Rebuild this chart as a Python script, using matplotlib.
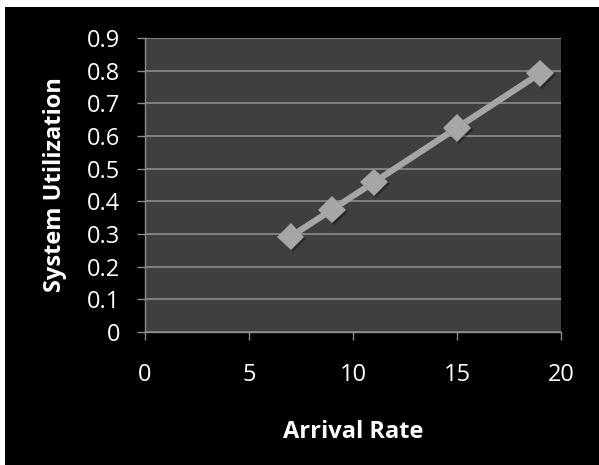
import matplotlib
matplotlib.use("Agg")
import matplotlib.pyplot as plt
import matplotlib.patheffects as pe

# arrival rate vs. system utilization
arrival_rate = [7, 9, 11, 15, 19]
utilization = [0.292, 0.375, 0.458, 0.625, 0.792]

x_ticks = [0, 5, 10, 15, 20]
y_ticks = [0, 0.1, 0.2, 0.3, 0.4, 0.5, 0.6, 0.7, 0.8, 0.9]

plt.rcParams['font.family'] = ['Open Sans', 'DejaVu Sans']

fig = plt.figure(figsize=(5.99, 4.65), dpi=100, facecolor="white")
# black panel with a thin white margin on the top and left
fig.patches.append(plt.Rectangle((5 / 599, 0), 1, 1 - 7 / 465, transform=fig.transFigure,
                                 facecolor="black", edgecolor="none", zorder=-10))

ax = fig.add_axes([145 / 599, 1 - 332 / 465, (561 - 145) / 599, (332 - 38) / 465])
ax.set_facecolor("#3f3f3f")

ax.plot(arrival_rate, utilization, color="#a6a6a6", linewidth=4.5, marker="D",
        markersize=14, markeredgewidth=0, solid_capstyle="butt", zorder=3,
        path_effects=[pe.SimplePatchShadow(offset=(1.5, -1.5), shadow_rgbFace="black", alpha=0.35),
                      pe.Normal()])

ax.set_xlim(0, 20)
ax.set_ylim(0, 0.9)
ax.set_xticks(x_ticks)
ax.set_yticks(y_ticks)
ax.set_yticklabels([f"{v:g}" for v in y_ticks])

ax.grid(axis="y", color="#8c8c8c", linewidth=1.2, zorder=1)
ax.set_axisbelow(True)

for side in ["top", "right"]:
    ax.spines[side].set_visible(False)
for side in ["left", "bottom"]:
    ax.spines[side].set_color("#8c8c8c")
    ax.spines[side].set_linewidth(1.0)

ax.tick_params(axis="both", colors="#8c8c8c", labelcolor="white", labelsize=17,
               length=6, width=1.0, direction="out")
ax.tick_params(axis="x", pad=16)
ax.tick_params(axis="y", pad=12)

ax.set_xlabel("Arrival Rate", color="white", fontsize=17, fontweight="bold", labelpad=24)
ax.set_ylabel("System Utilization", color="white", fontsize=17, fontweight="bold", labelpad=14)

fig.savefig("out.png", dpi=100, facecolor=fig.get_facecolor())
